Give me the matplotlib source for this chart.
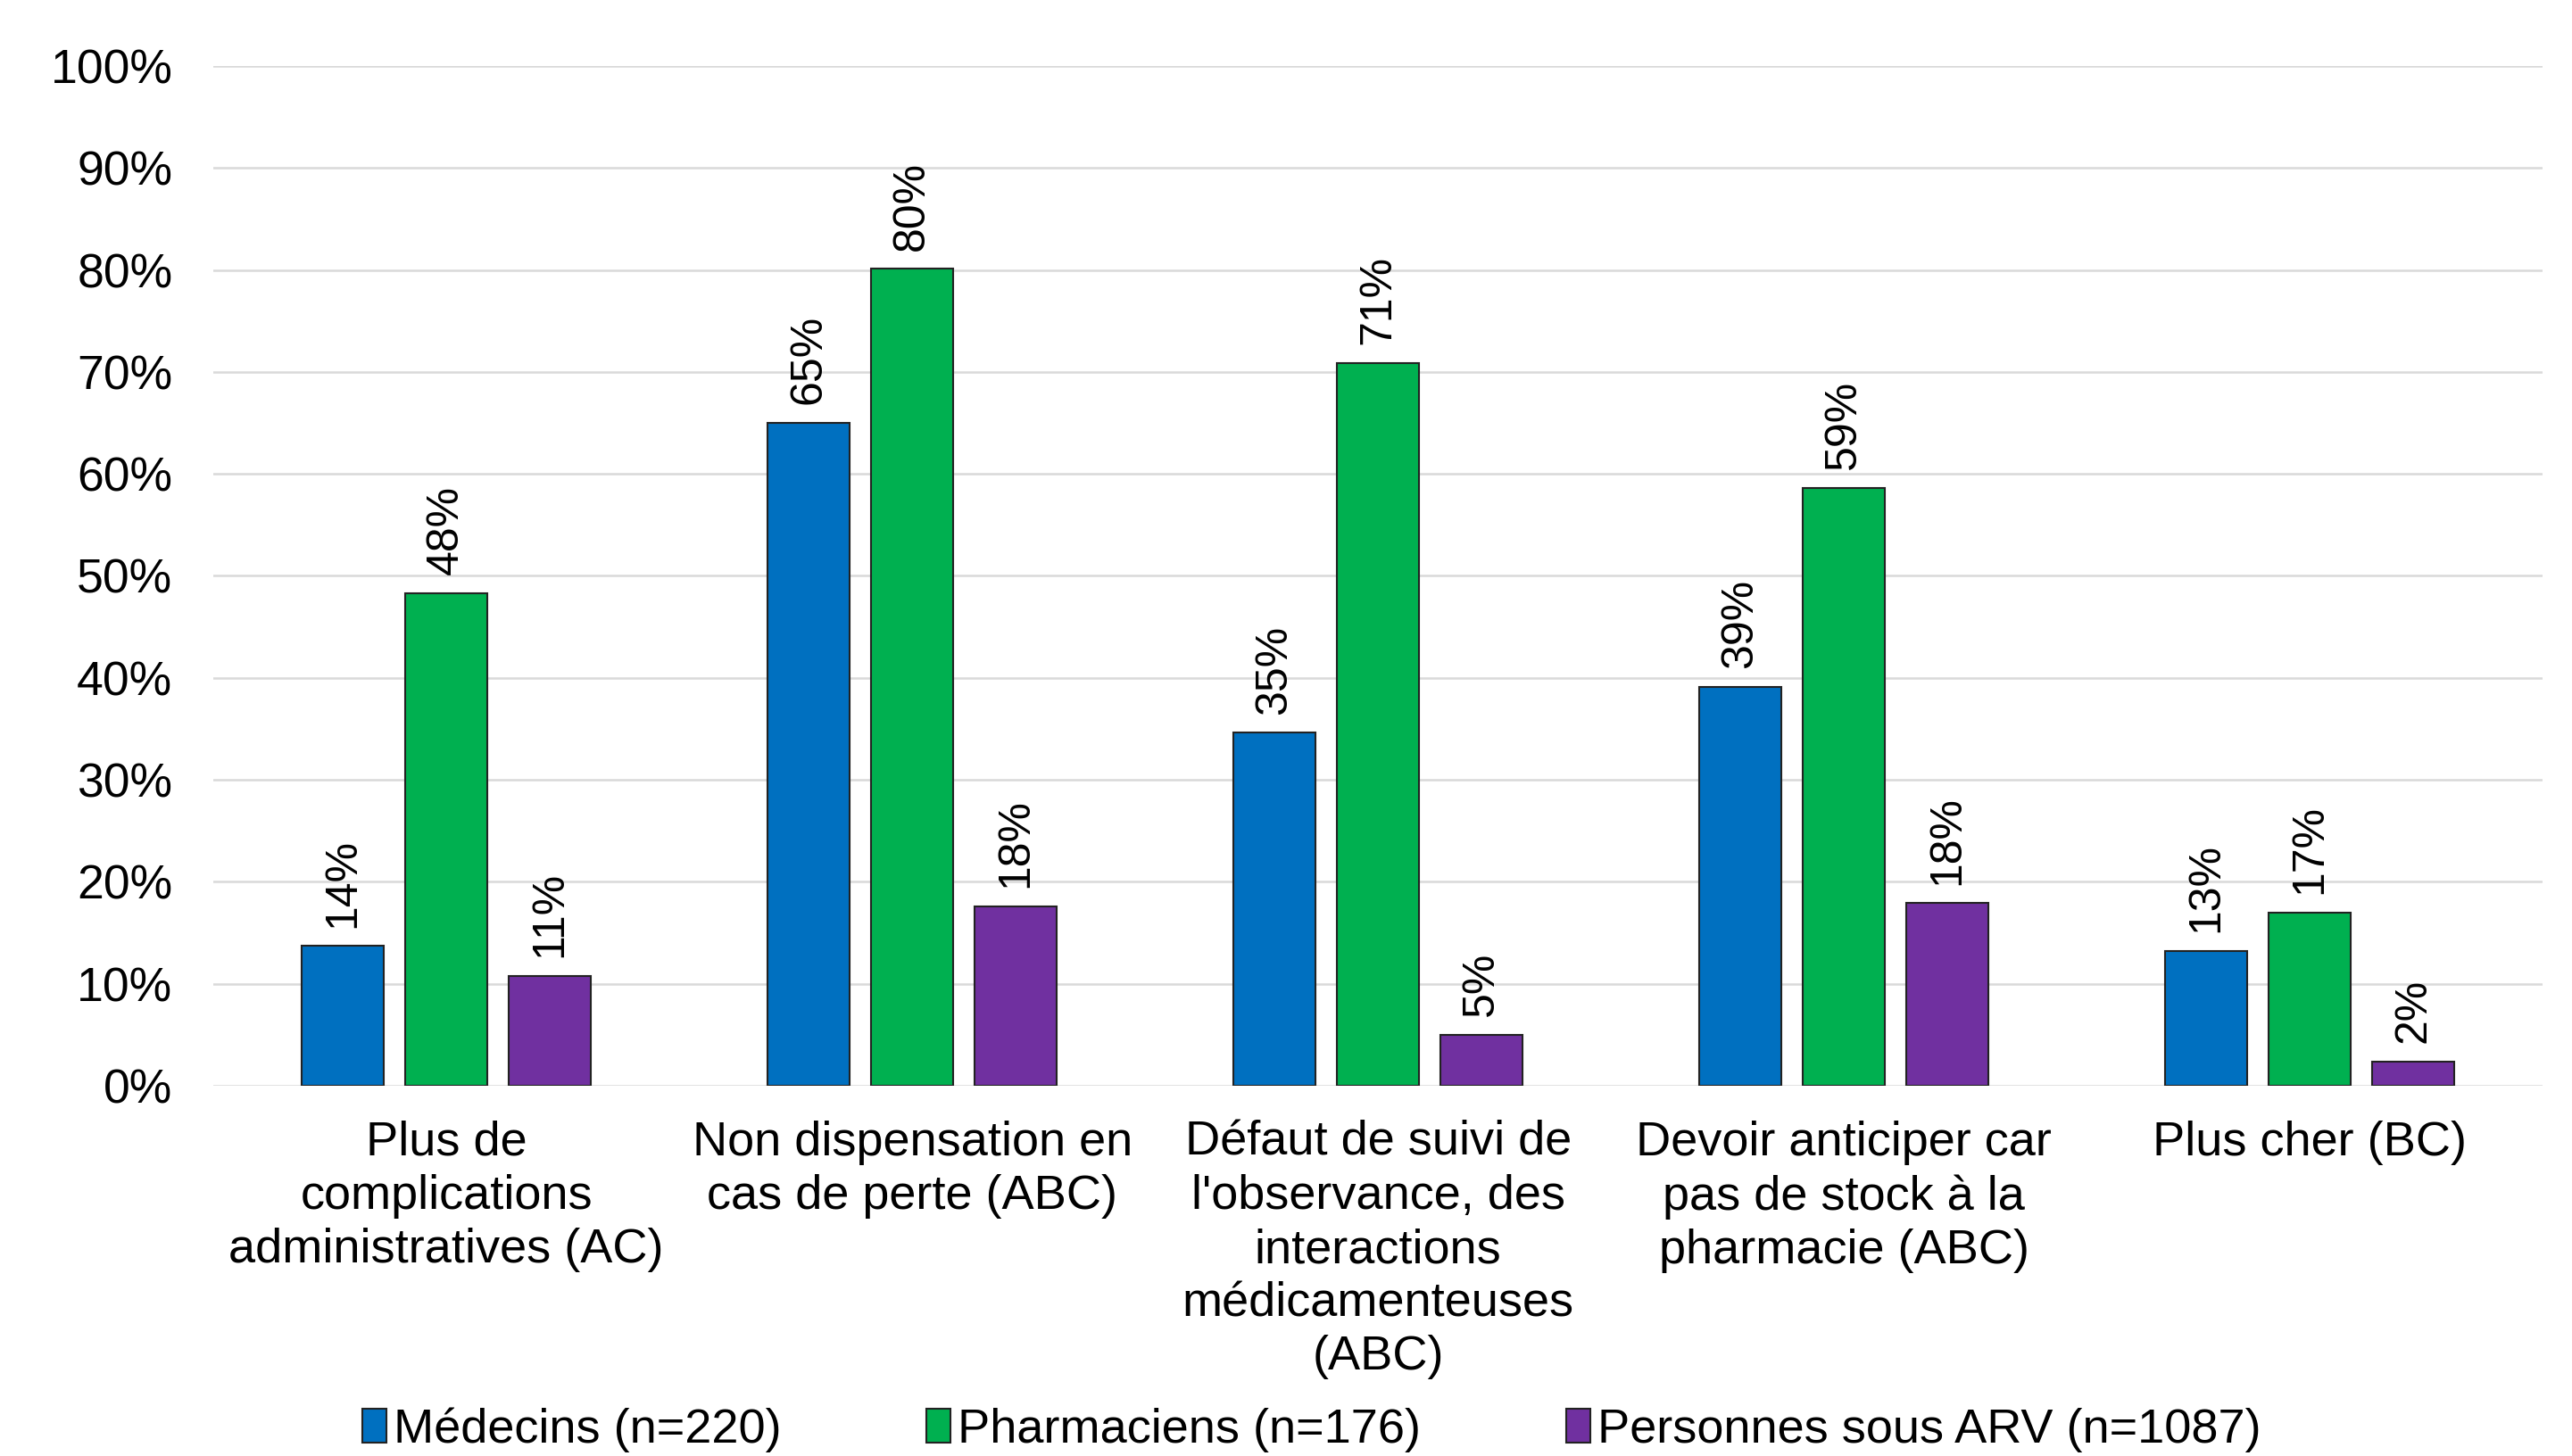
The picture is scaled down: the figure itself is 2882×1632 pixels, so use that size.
import matplotlib
matplotlib.use("Agg")
import matplotlib.pyplot as plt
import numpy as np

plt.rcParams["font.family"] = ["Liberation Sans", "DejaVu Sans"]

categories = [
    "Plus de\ncomplications\nadministratives (AC)",
    "Non dispensation en\ncas de perte (ABC)",
    "Défaut de suivi de\nl'observance, des\ninteractions\nmédicamenteuses\n(ABC)",
    "Devoir anticiper car\npas de stock à la\npharmacie (ABC)",
    "Plus cher (BC)",
]
series_names = ["Médecins (n=220)", "Pharmaciens (n=176)", "Personnes sous ARV (n=1087)"]
medecins = [13.7, 65.0, 34.6, 39.1, 13.2]
pharmaciens = [48.3, 80.1, 70.9, 58.6, 17.0]
personnes = [10.8, 17.6, 5.0, 17.9, 2.4]
y_ticks = list(range(0, 101, 10))

COLORS = ["#0070C0", "#00B050", "#7030A0"]

fig = plt.figure(figsize=(28.82, 16.32), dpi=100)
ax = fig.add_axes([0.083, 0.2543, 0.9056, 0.7004])

x = np.arange(len(categories))
width = 0.176
step = 0.222
for i, (vals, name, col) in enumerate(zip([medecins, pharmaciens, personnes], series_names, COLORS)):
    pos = x + (i - 1) * step
    bars = ax.bar(pos, vals, width=width, color=col, edgecolor="#222222",
                  linewidth=1.5, label=name, zorder=3)
    for b, v in zip(bars, vals):
        ax.annotate(f"{round(v):.0f}%", (b.get_x() + b.get_width() / 2, v),
                    xytext=(0, 15), textcoords="offset points",
                    rotation=90, ha="center", va="bottom", fontsize=36)

ax.set_xlim(-0.5, len(categories) - 0.5)
ax.set_ylim(0, 100)
ax.set_yticks(y_ticks)
ax.set_yticklabels([f"{t}%" for t in y_ticks], fontsize=38.5)
ax.set_xticks(x)
ax.set_xticklabels(categories, fontsize=39, linespacing=1.26)
ax.tick_params(axis="y", length=0, pad=33)
ax.tick_params(axis="x", length=0, pad=28)
ax.grid(True, axis="y", color="#d9d9d9", linewidth=1.8, zorder=0)
for s in ax.spines.values():
    s.set_visible(False)

fig.legend(loc="center", bbox_to_anchor=(0.51, 0.018), ncol=3, frameon=False,
           fontsize=39, handlelength=0.5, handleheight=0.7, handletextpad=0.15,
           columnspacing=3.0)

fig.savefig("out.png", dpi=100)
